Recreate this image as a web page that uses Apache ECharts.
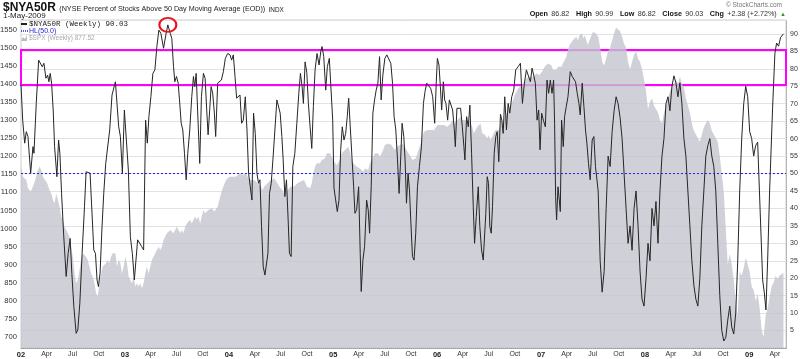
<!DOCTYPE html>
<html><head><meta charset="utf-8">
<script src="https://cdn.jsdelivr.net/npm/echarts@6/dist/echarts.min.js"></script>
<style>html,body{margin:0;padding:0;background:#fff}#c{width:800px;height:359px}</style>
</head><body><div id="c"></div>
<script>
// weeks since 1 Jan 2002 , value
const nyaPoints = [
[0,75.4],[0.85,65.3],[1.85,58.7],[2.65,62.0],[3.5,60.6],[4.35,53.9],[4.85,50.1],[6,57.7],[6.5,55.8],[7.65,70.1],
[8.85,82.5],[9.85,82.1],[10.65,80.6],[11.5,81.6],[12.5,77.3],[13.35,78.2],[14,76.3],[14.65,78.7],[15.35,75.9],[16.15,68.2],
[16.85,57.7],[18,49.1],[18.85,59.6],[19.5,55.8],[20.35,44.3],[21.35,32.9],[22.65,20.5],[23.65,27.1],[24.65,31.4],[25.5,21.4],
[26.5,11.9],[27.65,4.2],[28.5,5.2],[29.5,12.8],[30.65,27.1],[31.85,40.5],[32.65,50.5],[33.65,50.5],[34.65,50.1],[35.5,50.1],
[36.5,28.1],[37.35,27.1],[38.15,19.5],[38.85,17.6],[39.65,21.4],[40.65,34.8],[41.5,44.3],[42.5,52.9],[43.5,53.4],[44.5,62.5],
[45.65,72.5],[47.35,76.3],[48.15,70.1],[49,63.4],[49.85,60.6],[50.85,50.1],[51.85,68.2],[52.85,68.7],[53.85,51.0],[54.85,31.9],
[55.85,27.1],[56.85,19.5],[57.5,20.0],[58.5,31.0],[59.5,31.0],[60.5,29.1],[61.5,28.1],[62.5,65.3],[63.35,58.7],[64.15,66.3],
[65.15,72.0],[66.15,78.7],[67.15,79.7],[68.15,86.4],[69.15,91.1],[70.15,90.2],[71.5,85.9],[72.65,89.7],[73.65,92.6],[74.85,90.2],
[75.65,88.7],[76.5,80.6],[77.15,76.3],[78,77.8],[78.85,75.9],[79.5,71.1],[80.35,64.4],[81.15,62.5],[82,55.8],[82.85,48.2],
[83.65,55.8],[84.65,62.5],[85.65,72.0],[86.5,77.8],[87.15,74.9],[87.85,78.7],[88.65,79.2],[89.65,52.9],[90.5,72.0],[91.5,78.7],
[92.35,77.3],[93.15,68.2],[93.85,61.1],[94.85,70.1],[95.35,74.9],[96.15,73.0],[97,67.3],[97.65,60.6],[98.65,75.9],[99.5,76.3],
[100.5,76.8],[101.5,79.2],[102.5,83.0],[103.65,84.4],[104.85,84.0],[105.65,82.5],[106.5,84.0],[107.35,77.8],[108.15,71.6],[109,71.1],
[109.85,72.5],[110.65,64.4],[111.5,65.3],[112.5,72.0],[113.35,62.5],[114.15,50.1],[115,46.2],[115.85,42.4],[116.65,67.3],[117.5,61.5],
[118.35,50.1],[119.15,47.2],[119.85,48.2],[120.65,34.8],[121.5,23.3],[122.35,20.9],[123.15,21.4],[123.85,27.1],[124.65,44.3],[125.5,47.2],
[126.35,53.9],[127.35,62.5],[128.35,71.1],[129.15,71.6],[130,67.3],[130.85,60.6],[131.5,53.9],[132.35,43.4],[133.15,48.2],[134,36.7],
[134.65,27.1],[135.5,26.2],[136.35,52.0],[137.35,55.8],[138.35,64.4],[139.35,73.0],[140.15,78.7],[141,74.9],[141.65,70.1],[142.5,82.0],
[143.35,79.0],[144.15,70.1],[145,63.4],[145.85,57.2],[146.65,69.2],[147.5,79.7],[148.5,84.4],[149.5,81.1],[150.35,84.9],[151,86.4],
[151.85,83.5],[152.85,73.9],[153.65,80.6],[154.65,83.0],[155.5,83.0],[156.35,65.3],[157,45.8],[157.65,45.3],[158.65,39.1],[159.5,42.4],
[160.35,56.8],[161.15,63.4],[162,59.6],[162.85,61.5],[163.65,66.3],[164.35,71.6],[165.15,63.4],[166,54.8],[166.85,46.2],[167.5,38.6],
[168.35,39.6],[169.35,46.2],[170.15,27.1],[170.65,16.2],[171.5,25.2],[172.35,29.1],[173.35,42.4],[174.15,39.6],[174.85,32.9],[175.65,46.2],
[176.5,67.3],[177.35,71.1],[178.15,73.9],[179,75.9],[179.85,83.5],[180.65,71.1],[181.5,78.2],[182.5,83.0],[183.5,84.0],[184.5,84.4],
[185.5,81.6],[186.35,75.9],[187.15,66.3],[188,62.5],[188.85,53.9],[189.65,44.3],[190.5,55.0],[191.15,64.4],[192,60.6],[192.65,53.9],
[193.35,41.5],[194.15,50.1],[194.85,45.3],[195.5,36.7],[196.35,26.2],[197.15,25.2],[198,32.9],[198.85,46.2],[199.85,52.0],[200.85,57.7],
[201.85,70.1],[202.65,73.5],[203.5,75.9],[204.5,75.4],[205.5,74.4],[206.5,72.0],[207.5,64.4],[208.35,76.8],[208.85,83.0],[209.65,81.1],
[210.35,74.9],[211,68.2],[211.85,76.3],[212.5,71.1],[213.15,70.1],[214,65.3],[214.85,71.1],[215.65,71.1],[216.5,68.2],[217.35,62.5],
[217.85,57.7],[218.65,68.7],[219.5,68.7],[220.5,68.7],[221.35,63.4],[222.15,57.7],[222.65,53.9],[223.5,66.3],[224.35,63.4],[225.15,69.6],
[226,55.8],[226.85,40.5],[227.5,30.0],[228.35,37.7],[229.35,46.2],[230.15,34.8],[231,28.1],[231.85,25.2],[232.5,24.8],[233.15,38.6],
[233.85,49.1],[234.5,47.2],[235.15,34.8],[235.85,32.9],[236.5,40.5],[237.35,55.8],[238.15,60.6],[238.85,62.0],[239.65,53.4],[240.5,67.0],
[241.15,65.3],[241.85,61.5],[242.65,72.0],[243.5,62.5],[244.35,70.1],[245.15,67.3],[246.15,72.0],[247.15,73.9],[248.15,79.7],[249.35,80.6],
[250.5,81.6],[251.5,70.1],[252.5,75.9],[253.5,79.7],[254.5,80.2],[255.5,76.3],[256.35,80.2],[257.15,78.2],[258,75.9],[258.85,65.3],
[259.65,68.2],[260.35,56.8],[261.15,67.3],[262,65.3],[263,63.4],[263.85,76.8],[264.65,73.0],[265.5,76.8],[266.35,73.0],[267.15,76.8],
[267.65,64.4],[268.15,43.4],[268.65,36.7],[269.35,46.2],[270,42.4],[270.5,39.1],[271.15,65.3],[272,57.7],[272.65,66.3],[273.5,69.2],
[274.35,72.0],[275.5,79.2],[276.5,77.8],[277.35,77.3],[278.15,76.3],[279,73.0],[279.85,70.1],[280.5,66.8],[281.5,75.9],[282.35,69.2],
[283.15,62.5],[283.85,58.7],[284.65,52.9],[285.5,48.2],[286.5,59.6],[287.35,60.6],[288.15,52.0],
[289.5,45],[290.5,25],[291.5,16],[292.5,22],[293.5,40],[294.5,55],[295.5,52],[296.5,62],[297.5,68],[298.5,72],
[299.5,70],[300.5,66],[301.5,60],[302.5,50],[303.5,40],[304.5,30],[305.5,35],[306.5,28],[307.5,40],[308.5,45],
[309.5,35],[310.5,22],[311.5,14],[312.5,12],[313.5,20],[314.5,30],[315.5,25],[316.5,40],[317.5,35],[318.5,42],
[319.5,30],[320.5,45],[321.5,55],[322.5,60],[323.5,70],[324.5,72],[325.5,68],[326.5,75],[327.5,78],[328.5,76],
[329.5,72],[330.5,76],[331.5,70],[332.5,60],[333.5,55],[334.5,45],[335.5,35],[336.5,25],[337.5,18],[338.5,14],
[339.5,12],[340.5,20],[341.5,35],[342.5,45],[343.5,55],[344.5,58],[345.5,60],[346.5,55],[347.5,52],[348.5,45],
[349.5,30],[350.5,15],[351.5,5],[352.5,2],[353.5,3],[354.5,8],[355.5,12],[356.5,6],[357.5,4],[358.5,10],
[359.5,25],[360.5,45],[361.5,60],[362.5,70],[363.5,75],[364.5,72],[365.5,62],[366.5,60],[367.5,55],[368.5,58],
[369.5,59],[372,19.5],[372.85,15.8],[373.65,10.9],[374.5,25],[375.5,45],[377,69],[378.15,84.5],[379,87.4],[380,86.5],
[381,89],[382.43,90.03]
];
const spxPoints = [
[0,1175],[1,1143],[2.65,1134],[3.5,1111],[4.85,1102],[6,1116],[7.15,1134],[8.15,1157],[9.35,1171],[10.15,1162],
[11,1143],[11.85,1139],[13.15,1125],[14.35,1106],[15.15,1097],[16,1079],[16.85,1070],[17.65,1097],[18.5,1079],[19.35,1060],
[20.15,1033],[21,1024],[21.85,1005],[22.65,996],[23.5,987],[24.35,978],[25.15,950],[26,922],[26.85,876],[27.65,849],
[28.5,858],[29.35,886],[30.15,913],[31,932],[31.85,932],[32.65,922],[33.5,913],[34.35,895],[35.15,876],[36,867],
[36.85,849],[37.65,821],[38.5,812],[39.35,849],[40.15,876],[41,895],[41.85,895],[42.65,904],[43.5,913],[44.35,904],
[45.15,922],[46,932],[46.85,936],[47.35,932],[48.15,895],[49,913],[49.85,904],[50.65,876],[51.5,895],[52.35,922],
[53.15,904],[54,867],[54.85,858],[55.65,849],[56.5,867],[57.35,840],[58.15,849],[59,840],[59.85,849],[60.65,835],
[61.5,849],[62.35,876],[63.15,895],[64,876],[64.85,895],[65.65,913],[66.5,913],[67.35,932],[68.15,932],[69,950],
[69.85,941],[70.65,950],[71.5,968],[72.35,978],[73.15,987],[74,991],[74.85,996],[75.65,996],[76.5,987],[77.35,996],
[78.15,1005],[79,996],[79.85,987],[80.65,996],[81.5,987],[82.35,1005],[83.15,1014],[84,1014],[84.85,1024],[85.65,1014],
[86.5,1024],[87.35,1033],[88.15,1024],[89,1033],[89.85,1014],[90.65,1033],[91.5,1051],[92.35,1042],[93.15,1047],[94,1051],
[94.85,1056],[95.65,1056],[96.15,1051],[97,1047],[97.85,1047],[98.65,1060],[99.5,1079],[100.35,1097],[101.15,1111],[102,1116],
[102.85,1134],[103.65,1139],[104.5,1143],[105.35,1139],[106.15,1143],[107,1139],[107.85,1143],[108.65,1148],[109.5,1152],[110.35,1152],
[111.15,1148],[112,1148],[112.85,1152],[113.65,1143],[114.5,1139],[115.35,1134],[116.15,1130],[117,1134],[117.85,1130],[118.65,1125],
[119.5,1125],[120.35,1116],[121.15,1106],[122,1116],[122.85,1120],[123.65,1125],[124.5,1130],[125.35,1134],[126.15,1134],[127,1139],
[127.85,1134],[128.65,1125],[129.5,1116],[130.35,1116],[131.15,1106],[132,1097],[132.85,1097],[133.65,1106],[134.5,1111],[135.35,1116],
[136.15,1111],[137,1116],[137.85,1120],[138.65,1125],[139.5,1130],[140.35,1130],[141.15,1134],[142,1134],[143.35,1116],[144.15,1111],
[145,1111],[145.85,1125],[146.65,1152],[147.5,1171],[148.35,1180],[149.15,1185],[150,1180],[150.85,1189],[151.65,1189],[152.5,1194],
[153.35,1208],[154.15,1212],[155,1208],[155.85,1198],[156.65,1189],[157.5,1185],[158.35,1175],[159.15,1180],[160,1189],[160.85,1208],
[161.65,1212],[162.5,1217],[163.35,1221],[164.15,1226],[165,1212],[165.85,1189],[166.65,1180],[167.5,1185],[168.35,1171],[169.15,1175],
[170,1166],[170.85,1162],[171.65,1157],[172.5,1166],[173.35,1171],[174.15,1162],[175,1180],[175.85,1189],[176.65,1198],[177.5,1208],
[178.35,1212],[179.15,1208],[180,1198],[180.85,1208],[181.65,1217],[182.5,1231],[183.35,1235],[184.15,1235],[185,1231],[185.85,1231],
[186.65,1226],[187.5,1217],[188.35,1226],[189.15,1231],[190,1230],[191.35,1235],[192.15,1231],[193,1221],[193.85,1212],[194.65,1208],
[195.5,1198],[196.35,1189],[197.15,1185],[198,1194],[198.85,1208],[199.65,1221],[200.5,1235],[201.35,1254],[202.15,1267],[203,1272],
[203.85,1272],[204.65,1267],[205.5,1272],[206.35,1272],[207.15,1272],[208,1277],[208.85,1286],[209.65,1290],[210.5,1286],[211.35,1281],
[212.15,1286],[213,1290],[213.85,1281],[214.65,1286],[215.5,1290],[216.35,1300],[217.15,1290],[218,1290],[218.85,1300],[219.65,1304],
[220.5,1309],[221.35,1300],[222.15,1300],[223,1300],[223.85,1290],[224.65,1300],[225.5,1295],[226.35,1281],[227.15,1263],[228,1258],
[228.85,1281],[229.65,1286],[230.5,1290],[231.35,1263],[232.15,1258],[233,1258],[233.85,1249],[234.65,1258],[235.5,1244],[236.35,1254],
[237.15,1263],[238,1272],[238.85,1272],[239.65,1272],[240.15,1281],[241,1290],[241.85,1300],[242.65,1309],[243.5,1318],[244.35,1327],
[245.15,1336],[246,1346],[246.85,1355],[247.65,1369],[248.5,1373],[249.35,1387],[250.15,1392],[251,1396],[251.85,1401],[252.65,1405],
[253.5,1415],[254.35,1419],[255.15,1419],[256,1424],[256.85,1419],[257.65,1415],[258.5,1428],[259.35,1433],[260.15,1424],[261,1428],
[261.85,1438],[262.65,1447],[263.5,1447],[264.35,1456],[265.15,1461],[266,1451],[266.85,1438],[267.65,1433],[268.5,1438],[269.35,1447],
[270.15,1442],[271,1447],[271.85,1456],[272.65,1465],[273.5,1474],[274.35,1493],[275.15,1507],[276,1511],[276.85,1520],[277.65,1525],
[278.5,1530],[279.35,1520],[280.15,1534],[281,1530],[281.5,1539],[282.15,1525],[282.85,1534],[283.5,1520],[284.35,1507],[285.15,1520],
[286,1525],[286.85,1543],[287.65,1548],[288.5,1539],
[289.5,1530],[290.5,1500],[291.5,1460],[292.5,1450],[293.5,1470],[294.5,1490],[295.5,1500],[296.5,1520],[297.5,1540],[298.5,1555],
[299.5,1560],[300.5,1545],[301.5,1530],[302.5,1510],[303.5,1500],[304.5,1460],[305.5,1440],[306.5,1460],[307.5,1480],[308.5,1490],
[309.5,1470],[310.5,1460],[311.5,1440],[312.5,1410],[313.5,1380],[314.5,1330],[315.5,1350],[316.5,1360],[317.5,1340],[318.5,1340],
[319.5,1320],[320.5,1300],[321.5,1290],[322.5,1320],[323.5,1340],[324.5,1360],[325.5,1380],[326.5,1390],[327.5,1400],[328.5,1410],
[329.5,1400],[330.5,1420],[331.5,1400],[332.5,1390],[333.5,1360],[334.5,1340],[335.5,1320],[336.5,1290],[337.5,1270],[338.5,1260],
[339.5,1250],[340.5,1240],[341.5,1260],[342.5,1280],[343.5,1290],[344.5,1300],[345.5,1290],[346.5,1270],[347.5,1260],[348.5,1250],
[349.5,1240],[350.5,1200],[351.5,1150],[352.5,1100],[353.5,1000],[354.5,900],[355.5,930],[356.5,900],[357.5,860],[358.5,800],
[359.5,760],[360.5,880],[361.5,870],[362.5,890],[363.5,920],[364.5,900],[365.5,880],[366.5,840],[367.5,830],[368.5,800],
[369.5,820],[370.5,780],[371.5,720],[372.5,700],[373.5,760],[374.5,780],[375.5,810],[376.5,840],[377.5,850],[378.5,870],
[379.5,860],[380.5,870],[382.43,877.52]
];
const spxTicks = [700,750,800,850,900,950,1000,1050,1100,1150,1200,1250,1300,1350,1400,1450,1500,1550];
const monthNames = ['Jan','Feb','Mar','Apr','May','Jun','Jul','Aug','Sep','Oct','Nov','Dec'];
const hlLevel = 50;
const bandLow = 75.4, bandHigh = 85.4;
const ohlc = {open:'86.82', high:'90.99', low:'86.82', close:'90.03', chg:'+2.38 (+2.72%)'};

const DAY = 86400000;
const T0 = Date.UTC(2002,0,1);
const toTime = w => T0 + w * 7 * DAY;
const xMin = T0, xMax = Date.UTC(2009,4,10);
const quarterTicks = [];
for (let y = 2002; y <= 2009; y++) for (const m of [0,3,6,9]) { const t = Date.UTC(y,m,1); if (t < xMax) quarterTicks.push(t); }

const nyaData = nyaPoints.map(p => [toTime(p[0]), p[1]]);
const spxData = spxPoints.map(p => [toTime(p[0]), p[1]]);
const hlData = [[xMin, hlLevel], [xMax, hlLevel]];
let peak = null;
nyaData.forEach(d => { const yr = new Date(d[0]).getUTCFullYear(); if (yr === 2003 && (!peak || d[1] > peak[1])) peak = d; });

const FONT = 'Liberation Sans, Arial, sans-serif';
const HL_COLOR = '#2424d8';
const chart = echarts.init(document.getElementById('c'), null, {renderer:'canvas'});
chart.setOption({
  animation: false,
  backgroundColor: '#fff',
  grid: {left: 21, right: 14, top: 20, bottom: 11, containLabel: false, outerBoundsMode: 'none',
         show: true, borderColor: '#cfcfcf', borderWidth: 1, backgroundColor: '#fff'},
  xAxis: {
    type: 'value', min: xMin, max: xMax,
    axisLine: {show: true, lineStyle: {color: '#999', type: 'dotted'}},
    axisTick: {show: false},
    splitLine: {show: false},
    axisLabel: {
      customValues: quarterTicks, margin: 3, fontSize: 7, color: '#333', fontFamily: FONT,
      formatter: v => { const d = new Date(v); const m = d.getUTCMonth(); return m === 0 ? '{y|' + String(d.getUTCFullYear()).slice(2) + '}' : monthNames[m]; },
      rich: {y: {fontWeight: 'bold', fontSize: 7.5, color: '#222', fontFamily: FONT}}
    }
  },
  yAxis: [
    {type: 'value', position: 'left', min: 670, max: 1576,
     axisLine: {show: false}, axisTick: {show: false}, splitLine: {show: false},
     axisLabel: {customValues: spxTicks, fontSize: 7.6, color: '#333', margin: 4, fontFamily: FONT, formatter: v => String(v)}},
    {type: 'value', position: 'right', min: 0, max: 94, interval: 5,
     axisLine: {show: true, lineStyle: {color: '#aaa', type: 'dotted'}}, axisTick: {show: false},
     splitLine: {show: true, lineStyle: {color: '#e2e2e2', width: 1}},
     axisLabel: {fontSize: 7, color: '#333', margin: 4, fontFamily: FONT, formatter: v => (v >= 5 && v <= 90) ? String(v) : ''}}
  ],
  series: [
    {type: 'line', name: 'SPX', yAxisIndex: 0, data: spxData, showSymbol: false, z: 1,
     lineStyle: {width: 0}, areaStyle: {color: 'rgb(196,196,206)', opacity: 0.8, origin: 'start'}},
    {type: 'line', name: 'NYA50R', yAxisIndex: 1, data: nyaData, showSymbol: false, z: 3,
     lineStyle: {width: 1, color: '#262626'}},
    {type: 'line', name: 'HL', yAxisIndex: 1, data: hlData, showSymbol: false, z: 4, silent: true,
     itemStyle: {color: HL_COLOR},
     lineStyle: {color: HL_COLOR, type: [2, 2], width: 1}},
    {type: 'line', name: 'annot', yAxisIndex: 1, data: [], z: 5, silent: true,
     markArea: {silent: true, itemStyle: {color: 'rgba(0,0,0,0)', borderColor: '#ff00ff', borderWidth: 2},
       data: [[{xAxis: xMin, yAxis: bandHigh}, {xAxis: xMax, yAxis: bandLow}]]},
     markPoint: {silent: true, symbol: 'circle', symbolSize: [17, 14], label: {show: false},
       itemStyle: {color: 'rgba(0,0,0,0)', borderColor: '#e8141c', borderWidth: 2},
       data: [{coord: peak}]}}
  ],
  graphic: [
    {type: 'text', x: 3, y: 8, z: 100, style: {
      text: '{a|$NYA50R} {b|(NYSE Percent of Stocks Above 50 Day Moving Average (EOD))} {c|INDX}',
      verticalAlign: 'middle',
      rich: {a: {font: 'bold 12px ' + FONT, fill: '#111', verticalAlign: 'bottom'},
             b: {font: '7.2px ' + FONT, fill: '#222', verticalAlign: 'bottom', padding: [0, 0, 1, 0]},
             c: {font: '6.4px ' + FONT, fill: '#222', verticalAlign: 'bottom', padding: [0, 0, 1, 0]}}}},
    {type: 'text', x: 3, y: 16, z: 100, style: {text: '1-May-2009', font: '8px ' + FONT, fill: '#222', verticalAlign: 'middle'}},
    {type: 'text', x: 782, y: 5, z: 100, style: {text: '© StockCharts.com', font: '6.5px ' + FONT, fill: '#777', align: 'right', verticalAlign: 'middle'}},
    {type: 'text', x: 786, y: 14, z: 100, style: {
      text: '{b|Open} {v|' + ohlc.open + '}  {b|High} {v|' + ohlc.high + '}  {b|Low} {v|' + ohlc.low + '}  {b|Close} {v|' + ohlc.close + '}  {b|Chg} {v|' + ohlc.chg + '} {g|▲}',
      align: 'right', verticalAlign: 'middle',
      rich: {b: {font: 'bold 7.2px ' + FONT, fill: '#111'}, v: {font: '7.2px ' + FONT, fill: '#333'}, g: {font: '6px ' + FONT, fill: '#2a9a2a'}}}},
    {type: 'line', z: 100, shape: {x1: 21, y1: 24, x2: 27, y2: 24}, style: {stroke: '#222', lineWidth: 2}},
    {type: 'text', x: 29, y: 24, z: 100, style: {text: '$NYA50R (Weekly) ' + nyaPoints[nyaPoints.length - 1][1].toFixed(2), font: '7.5px Liberation Mono, monospace', fill: '#222', verticalAlign: 'middle'}},
    {type: 'line', z: 100, shape: {x1: 21, y1: 31, x2: 28, y2: 31}, style: {stroke: HL_COLOR, lineWidth: 1.5, lineDash: [1, 1]}},
    {type: 'text', x: 29, y: 31, z: 100, style: {text: 'HL(' + hlLevel.toFixed(1) + ')', font: '7px ' + FONT, fill: HL_COLOR, verticalAlign: 'middle'}},
    {type: 'polygon', z: 100, shape: {points: [[21, 41], [23, 37], [25, 39], [27, 35], [27, 41]]}, style: {fill: '#bbb'}},
    {type: 'text', x: 29, y: 38, z: 100, style: {text: '$SPX (Weekly) ' + spxPoints[spxPoints.length - 1][1].toFixed(2), font: '6.5px ' + FONT, fill: '#aaa', verticalAlign: 'middle'}}
  ]
});
</script></body></html>
